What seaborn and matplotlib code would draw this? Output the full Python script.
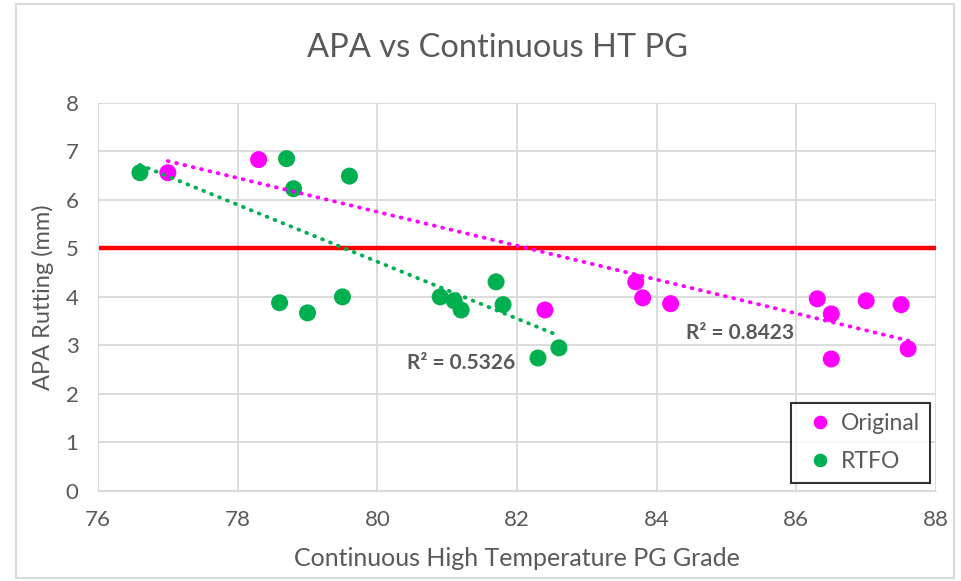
import pandas as pd
import seaborn as sns
import matplotlib.pyplot as plt
from matplotlib.patches import Rectangle
from matplotlib.ticker import MultipleLocator

# values
orig_x = [77.0, 78.3, 82.4, 83.7, 83.8, 84.2, 86.3, 86.5, 86.5, 87.0, 87.5, 87.6]
orig_y = [6.56, 6.83, 3.73, 4.31, 3.98, 3.86, 3.96, 3.65, 2.72, 3.92, 3.84, 2.93]
rtfo_x = [76.6, 78.7, 78.8, 79.6, 78.6, 79.0, 79.5, 80.9, 81.1, 81.2, 81.7, 81.8, 82.3, 82.6]
rtfo_y = [6.56, 6.85, 6.23, 6.49, 3.88, 3.67, 4.00, 4.00, 3.92, 3.73, 4.31, 3.84, 2.74, 2.95]
limit_y = 5
# excel linear trendlines (ends)
trend_orig_x = [77.0, 87.6]
trend_orig_y = [6.80, 3.10]
trend_rtfo_x = [76.6, 82.6]
trend_rtfo_y = [6.72, 3.20]
r2_labels = {'Original': 'R² = 0.8423', 'RTFO': 'R² = 0.5326'}
r2_pos = {'Original': (85.2, 3.26), 'RTFO': (81.2, 2.64)}

colors = {'Original': '#FF00FF', 'RTFO': '#00B050'}
grey = '#595959'

df = pd.DataFrame({
    'x': orig_x + rtfo_x,
    'y': orig_y + rtfo_y,
    'group': ['Original'] * len(orig_x) + ['RTFO'] * len(rtfo_x),
})

sns.set_style('white')
plt.rcParams['font.family'] = ['Lato', 'DejaVu Sans']

fig = plt.figure(figsize=(9.61, 5.81), dpi=100)
ax = fig.add_axes([0.102, 0.155, 0.872, 0.668])

ax.axhline(limit_y, color='#FF0000', lw=3.2, zorder=2)

sns.scatterplot(data=df, x='x', y='y', hue='group', palette=colors, s=150,
                edgecolor='none', ax=ax, zorder=3)

for name, tx_, ty_ in [('Original', trend_orig_x, trend_orig_y), ('RTFO', trend_rtfo_x, trend_rtfo_y)]:
    sns.lineplot(x=tx_, y=ty_, color=colors[name], lw=2.8, ax=ax, zorder=4,
                 dashes=False, legend=False)
    ax.lines[-1].set_linestyle((0, (0.2, 2.0)))
    ax.lines[-1].set_dash_capstyle('round')
    tx, ty = r2_pos[name]
    ax.text(tx, ty, r2_labels[name], color=grey, fontsize=15, fontweight='bold',
            ha='center', va='center', zorder=5)

ax.set_xlim(76, 88)
ax.set_ylim(0, 8)
ax.xaxis.set_major_locator(MultipleLocator(2))
ax.xaxis.set_minor_locator(MultipleLocator(0.4))
ax.yaxis.set_major_locator(MultipleLocator(1))
ax.yaxis.set_minor_locator(MultipleLocator(0.2))
ax.grid(True, which='major', color='#d9d9d9', lw=1.3)
ax.set_axisbelow(True)
for s in ax.spines.values():
    s.set_visible(False)
ax.spines['left'].set_visible(True)
ax.spines['bottom'].set_visible(True)
ax.spines['left'].set_color('#d9d9d9')
ax.spines['bottom'].set_color('#d9d9d9')
ax.tick_params(which='major', direction='out', length=6, color='#d9d9d9',
               labelsize=16, labelcolor=grey, pad=8)
ax.tick_params(which='minor', direction='in', length=4, color='#d9d9d9')

ax.set_xlabel('Continuous High Temperature PG Grade', fontsize=18, color=grey, labelpad=12)
ax.set_ylabel('APA Rutting (mm)', fontsize=17, color=grey, labelpad=8)
fig.text(497 / 961, 1 - 48 / 581, 'APA vs Continuous HT PG', fontsize=23.5, color=grey,
         ha='center', va='center')

leg = ax.legend(loc='lower right', bbox_to_anchor=(0.993, 0.021), frameon=True,
                fancybox=False, edgecolor='black', fontsize=16.5, labelcolor=grey,
                handletextpad=0.1, borderpad=0.45, labelspacing=0.75, markerscale=0.8,
                borderaxespad=0, handlelength=1.6)
leg.get_frame().set_linewidth(1.5)

fig.patches.append(Rectangle((16 / 961, 3 / 581), 938 / 961, 574 / 581,
                             transform=fig.transFigure, fill=False,
                             edgecolor='#d9d9d9', lw=1.5))

fig.savefig('out.png', dpi=100)
